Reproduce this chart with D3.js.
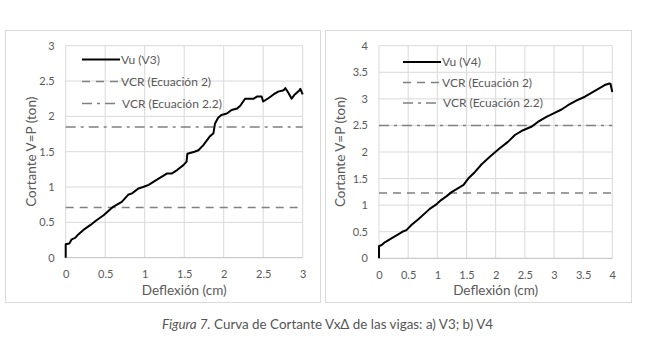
<!DOCTYPE html>
<html><head><meta charset="utf-8">
<script src="https://cdn.jsdelivr.net/npm/d3@7"></script>
<style>
html,body{margin:0;padding:0;background:#fff;}
svg{display:block;}
text{font-family:Lato,"Open Sans","Noto Sans",sans-serif;}
</style></head>
<body><svg id="c" width="650" height="345"></svg>
<script>
// ---- data ----
const v3Deflexion = [0,0,0.046,0.076,0.12,0.16,0.22,0.31,0.39,0.48,0.6,0.71,0.79,0.84,0.92,0.98,1.05,1.15,1.28,1.34,1.41,1.49,1.53,1.54,1.63,1.68,1.74,1.82,1.87,1.89,1.93,1.97,2.04,2.1,2.17,2.21,2.27,2.38,2.42,2.48,2.5,2.57,2.63,2.69,2.76,2.78,2.82,2.86,2.9,2.96,2.97,3.0];
const v3Cortante  = [0,0.19,0.2,0.26,0.28,0.33,0.39,0.46,0.53,0.6,0.72,0.79,0.89,0.91,0.98,1.0,1.03,1.1,1.19,1.19,1.24,1.31,1.36,1.47,1.5,1.52,1.59,1.71,1.76,1.9,1.98,2.02,2.04,2.09,2.11,2.15,2.25,2.25,2.28,2.28,2.21,2.26,2.31,2.35,2.37,2.4,2.33,2.25,2.31,2.37,2.39,2.31];
const v4Deflexion = [0,0,0.046,0.1,0.22,0.33,0.42,0.47,0.56,0.67,0.79,0.87,0.99,1.07,1.16,1.25,1.33,1.45,1.53,1.65,1.76,1.9,2.07,2.21,2.33,2.47,2.62,2.73,2.87,3.02,3.13,3.24,3.39,3.53,3.62,3.73,3.87,3.95,3.97,4.0];
const v4Cortante  = [0,0.23,0.25,0.3,0.38,0.45,0.51,0.53,0.63,0.73,0.85,0.93,1.02,1.1,1.17,1.25,1.3,1.38,1.5,1.63,1.77,1.91,2.07,2.19,2.32,2.41,2.48,2.57,2.66,2.74,2.8,2.88,2.97,3.04,3.1,3.17,3.26,3.29,3.28,3.13];
const vcrEc2  = {V3: 0.71, V4: 1.23};
const vcrEc22 = {V3: 1.85, V4: 2.5};
const xTicksV3 = [0,0.5,1,1.5,2,2.5,3];
const yTicksV3 = [0,0.5,1,1.5,2,2.5,3];
const xTicksV4 = [0,0.5,1,1.5,2,2.5,3,3.5,4];
const yTicksV4 = [0,0.5,1,1.5,2,2.5,3,3.5,4];
const legendV3 = ["Vu (V3)","VCR (Ecuación 2)","VCR (Ecuación 2.2)"];
const legendV4 = ["Vu (V4)","VCR (Ecuación 2)","VCR (Ecuación 2.2)"];
const xTitle = "Deflexión (cm)";
const yTitle = "Cortante V=P (ton)";

const svg = d3.select("#c");
const tickCol = "#595959", gridCol = "#d9d9d9";

function panel(o){
  const g = svg.append("g");
  g.append("rect").attr("x",o.box[0]).attr("y",o.box[1]).attr("width",o.box[2]).attr("height",o.box[3])
    .attr("fill","#fff").attr("stroke","#d9d9d9").attr("stroke-width",1);
  const x = d3.scaleLinear().domain([0,o.xMax]).range(o.xr);
  const y = d3.scaleLinear().domain([0,o.yMax]).range(o.yr);
  // grid
  g.selectAll(".gx").data(o.xTicks).join("line")
    .attr("x1",d=>x(d)).attr("x2",d=>x(d)).attr("y1",o.yr[0]).attr("y2",o.yr[1])
    .attr("stroke",gridCol).attr("stroke-width",1);
  g.selectAll(".gy").data(o.yTicks).join("line")
    .attr("x1",o.xr[0]).attr("x2",o.xr[1]).attr("y1",d=>y(d)).attr("y2",d=>y(d))
    .attr("stroke",d=>d===0?"#bfbfbf":gridCol).attr("stroke-width",1);
  // axes via d3
  const ax = g.append("g").attr("transform",`translate(0,${o.yr[0]})`)
    .call(d3.axisBottom(x).tickValues(o.xTicks).tickSize(0).tickPadding(13).tickFormat(d3.format("")));
  ax.select(".domain").remove();
  ax.selectAll("text").attr("fill",tickCol).style("font-size","11px").style("font-family","Lato,sans-serif");
  const ay = g.append("g").attr("transform",`translate(${o.xr[0]},0)`)
    .call(d3.axisLeft(y).tickValues(o.yTicks).tickSize(0).tickPadding(11).tickFormat(d3.format("")));
  ay.select(".domain").remove();
  ay.selectAll("text").attr("fill",tickCol).style("font-size","11px").style("font-family","Lato,sans-serif");
  // titles
  g.append("text").attr("x",(o.xr[0]+o.xr[1])/2).attr("y",o.yr[0]+37).attr("text-anchor","middle")
    .attr("fill",tickCol).style("font-size","13.5px").text(xTitle);
  g.append("text").attr("transform",`translate(${o.yTitleX},${(o.yr[0]+o.yr[1])/2}) rotate(-90)`)
    .attr("text-anchor","middle").attr("fill",tickCol).style("font-size","13.5px").text(yTitle);
  // VCR lines
  g.append("line").attr("x1",o.xr[0]).attr("x2",o.xr[1]).attr("y1",y(o.ec2)).attr("y2",y(o.ec2))
    .attr("stroke","#808080").attr("stroke-width",1.6).attr("stroke-dasharray","8,6");
  g.append("line").attr("x1",o.xr[0]).attr("x2",o.xr[1]).attr("y1",y(o.ec22)).attr("y2",y(o.ec22))
    .attr("stroke","#808080").attr("stroke-width",1.6).attr("stroke-dasharray","10,5,3,5");
  // curve
  const pts = o.xs.map((d,i)=>[d,o.ys[i]]);
  g.append("path").datum(pts).attr("fill","none").attr("stroke","#000").attr("stroke-width",2)
    .attr("stroke-linejoin","round")
    .attr("d",d3.line().x(d=>x(d[0])).y(d=>y(d[1])));
  // legend
  const styles = [
    {c:"#000",w:2.2,da:null},
    {c:"#808080",w:1.6,da:"8,6"},
    {c:"#808080",w:1.6,da:"10,5,3,5"}
  ];
  o.legend.forEach((t,i)=>{
    const ly = o.leg[1] + i*o.leg[3];
    const ln = g.append("line").attr("x1",o.leg[0]).attr("x2",o.leg[0]+o.leg[2]).attr("y1",ly).attr("y2",ly)
      .attr("stroke",styles[i].c).attr("stroke-width",styles[i].w);
    if(styles[i].da) ln.attr("stroke-dasharray",styles[i].da);
    g.append("text").attr("x",o.leg[0]+o.leg[2]+1+(i===2?1:0)).attr("y",ly+4).attr("fill",tickCol)
      .style("font-size","12px").text(t);
  });
}

panel({box:[5.5,30.5,315,272], xr:[65.7,302.7], yr:[257.7,45.7], xMax:3, yMax:3,
  xTicks:xTicksV3, yTicks:yTicksV3, xs:v3Deflexion, ys:v3Cortante, ec2:vcrEc2.V3, ec22:vcrEc22.V3,
  legend:legendV3, leg:[82,59.5,38,22], yTitleX:36});
panel({box:[325.5,30.5,306,272], xr:[379,612.3], yr:[258.3,45.7], xMax:4, yMax:4,
  xTicks:xTicksV4, yTicks:yTicksV4, xs:v4Deflexion, ys:v4Cortante, ec2:vcrEc2.V4, ec22:vcrEc22.V4,
  legend:legendV4, leg:[403,62,38,20.5], yTitleX:345});

// caption
const cap = svg.append("text").attr("x",327.5).attr("y",329).attr("text-anchor","middle")
  .attr("fill","#555").style("font-size","13.4px");
cap.append("tspan").style("font-style","italic").text("Figura 7.");
cap.append("tspan").text(" Curva de Cortante Vx\u0394 de las vigas: a) V3; b) V4");
</script></body></html>
